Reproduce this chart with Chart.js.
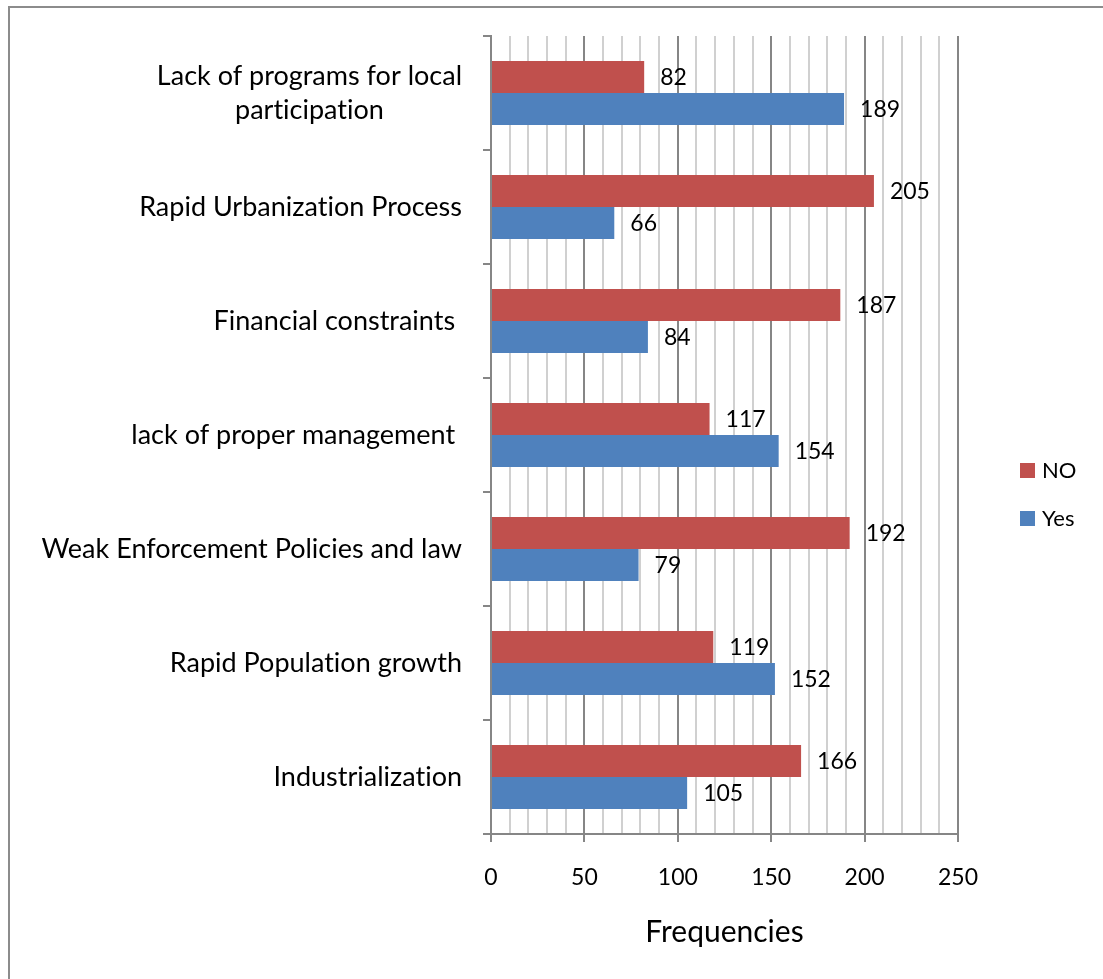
<!DOCTYPE html>
<html>
<head>
<meta charset="utf-8">
<script src="https://cdn.jsdelivr.net/npm/chart.js@4/dist/chart.umd.min.js"></script>
<style>
  body { margin: 0; background: #fff; }
  #wrap { position: relative; width: 1103px; height: 979px; overflow: hidden; }
  #frame { position: absolute; left: 8px; top: 6px; width: 1110px; height: 1000px;
           border-left: 2px solid #8c8c8c; border-top: 2px solid #8c8c8c; }
  #chart { position: absolute; left: 0; top: 0; }
</style>
</head>
<body>
<div id="wrap">
  <div id="frame"></div>
  <canvas id="chart" width="1103" height="979"></canvas>
</div>
<script>
const categories = [
  ["Lack of programs for local", "participation"],
  "Rapid Urbanization Process",
  "Financial constraints ",
  "lack of proper management ",
  "Weak Enforcement Policies and law",
  "Rapid Population growth",
  "Industrialization"
];
const noValues = [82, 205, 187, 117, 192, 119, 166];
const yesValues = [189, 66, 84, 154, 79, 152, 105];
const seriesNames = ["NO", "Yes"];
const seriesColors = ["#C0504D", "#4F81BD"];

const FONT = "Lato";
const AXIS_GREY = "#868686";

// category names: right-aligned block next to the axis, lines centred within the block
const categoryLabels = {
  id: 'categoryLabels',
  afterDraw(chart) {
    const ctx = chart.ctx;
    const yScale = chart.scales.y;
    const right = yScale.right - 29;
    ctx.save();
    ctx.font = "27px " + FONT;
    ctx.textRendering = "optimizeSpeed"; // no "ti" ligature
    ctx.fillStyle = "#000";
    ctx.textBaseline = "middle";
    categories.forEach((label, i) => {
      const y = yScale.getPixelForTick(i);
      const lines = Array.isArray(label) ? label : [label];
      const w = Math.max(...lines.map(l => ctx.measureText(l).width));
      const lh = 34;
      ctx.textAlign = lines.length > 1 ? "center" : "right";
      const x = lines.length > 1 ? right - w / 2 : right;
      lines.forEach((l, k) => {
        ctx.fillText(l, x, y + (k - (lines.length - 1) / 2) * lh);
      });
    });
    ctx.restore();
  }
};

// value printed just past the end of every bar
const valueLabels = {
  id: 'valueLabels',
  afterDatasetsDraw(chart) {
    const ctx = chart.ctx;
    ctx.save();
    ctx.font = "23px " + FONT;
    ctx.fillStyle = "#000";
    ctx.textAlign = "left";
    ctx.textBaseline = "middle";
    chart.data.datasets.forEach((ds, di) => {
      chart.getDatasetMeta(di).data.forEach((bar, i) => {
        ctx.fillText(ds.data[i], bar.x + 16, bar.y + 1);
      });
    });
    ctx.restore();
  }
};

// legend to the right of the plot
const sideLegend = {
  id: 'sideLegend',
  afterDraw(chart) {
    const ctx = chart.ctx;
    ctx.save();
    ctx.font = "22px " + FONT;
    ctx.textBaseline = "middle";
    ctx.textAlign = "left";
    chart.data.datasets.forEach((ds, i) => {
      const cy = 471 + i * 48;
      ctx.fillStyle = ds.backgroundColor;
      ctx.fillRect(1020, cy - 8, 15, 15);
      ctx.fillStyle = "#000";
      ctx.fillText(ds.label, 1042, cy);
    });
    ctx.restore();
  }
};

const config = {
  type: 'bar',
  data: {
    labels: categories,
    datasets: [
      { label: seriesNames[0], data: noValues, backgroundColor: seriesColors[0] },
      { label: seriesNames[1], data: yesValues, backgroundColor: seriesColors[1] }
    ]
  },
  options: {
    indexAxis: 'y',
    responsive: false,
    animation: false,
    categoryPercentage: 0.56,
    barPercentage: 1.0,
    layout: { padding: { top: 36, right: 145, left: 0, bottom: 0 } },
    plugins: {
      legend: { display: false },
      tooltip: { enabled: false }
    },
    scales: {
      x: {
        min: 0,
        max: 250,
        ticks: {
          stepSize: 10,
          autoSkip: false,
          maxRotation: 0,
          padding: 22,
          color: "#000",
          font: { family: FONT, size: 23 },
          callback: v => (v % 50 === 0 ? v : '')
        },
        grid: {
          color: c => (c.tick && c.tick.value % 50 === 0 ? AXIS_GREY : "#d0d0d0"),
          tickColor: c => (c.tick && c.tick.value % 50 === 0 ? AXIS_GREY : "rgba(0,0,0,0)"),
          lineWidth: 2,
          tickLength: 8
        },
        border: { color: AXIS_GREY, width: 2 },
        title: {
          display: true,
          text: "Frequencies",
          color: "#000",
          font: { family: FONT, size: 30 },
          padding: { bottom: 29 }
        },
        afterFit: s => { s.height = 145; }
      },
      y: {
        ticks: { display: false },
        grid: {
          drawOnChartArea: false,
          offset: true,
          color: AXIS_GREY,
          lineWidth: 2,
          tickLength: 8
        },
        border: { color: AXIS_GREY, width: 2 },
        afterFit: s => { s.width = 491; }
      }
    }
  },
  plugins: [categoryLabels, valueLabels, sideLegend]
};

new Chart(document.getElementById('chart').getContext('2d'), config);
</script>
</body>
</html>
